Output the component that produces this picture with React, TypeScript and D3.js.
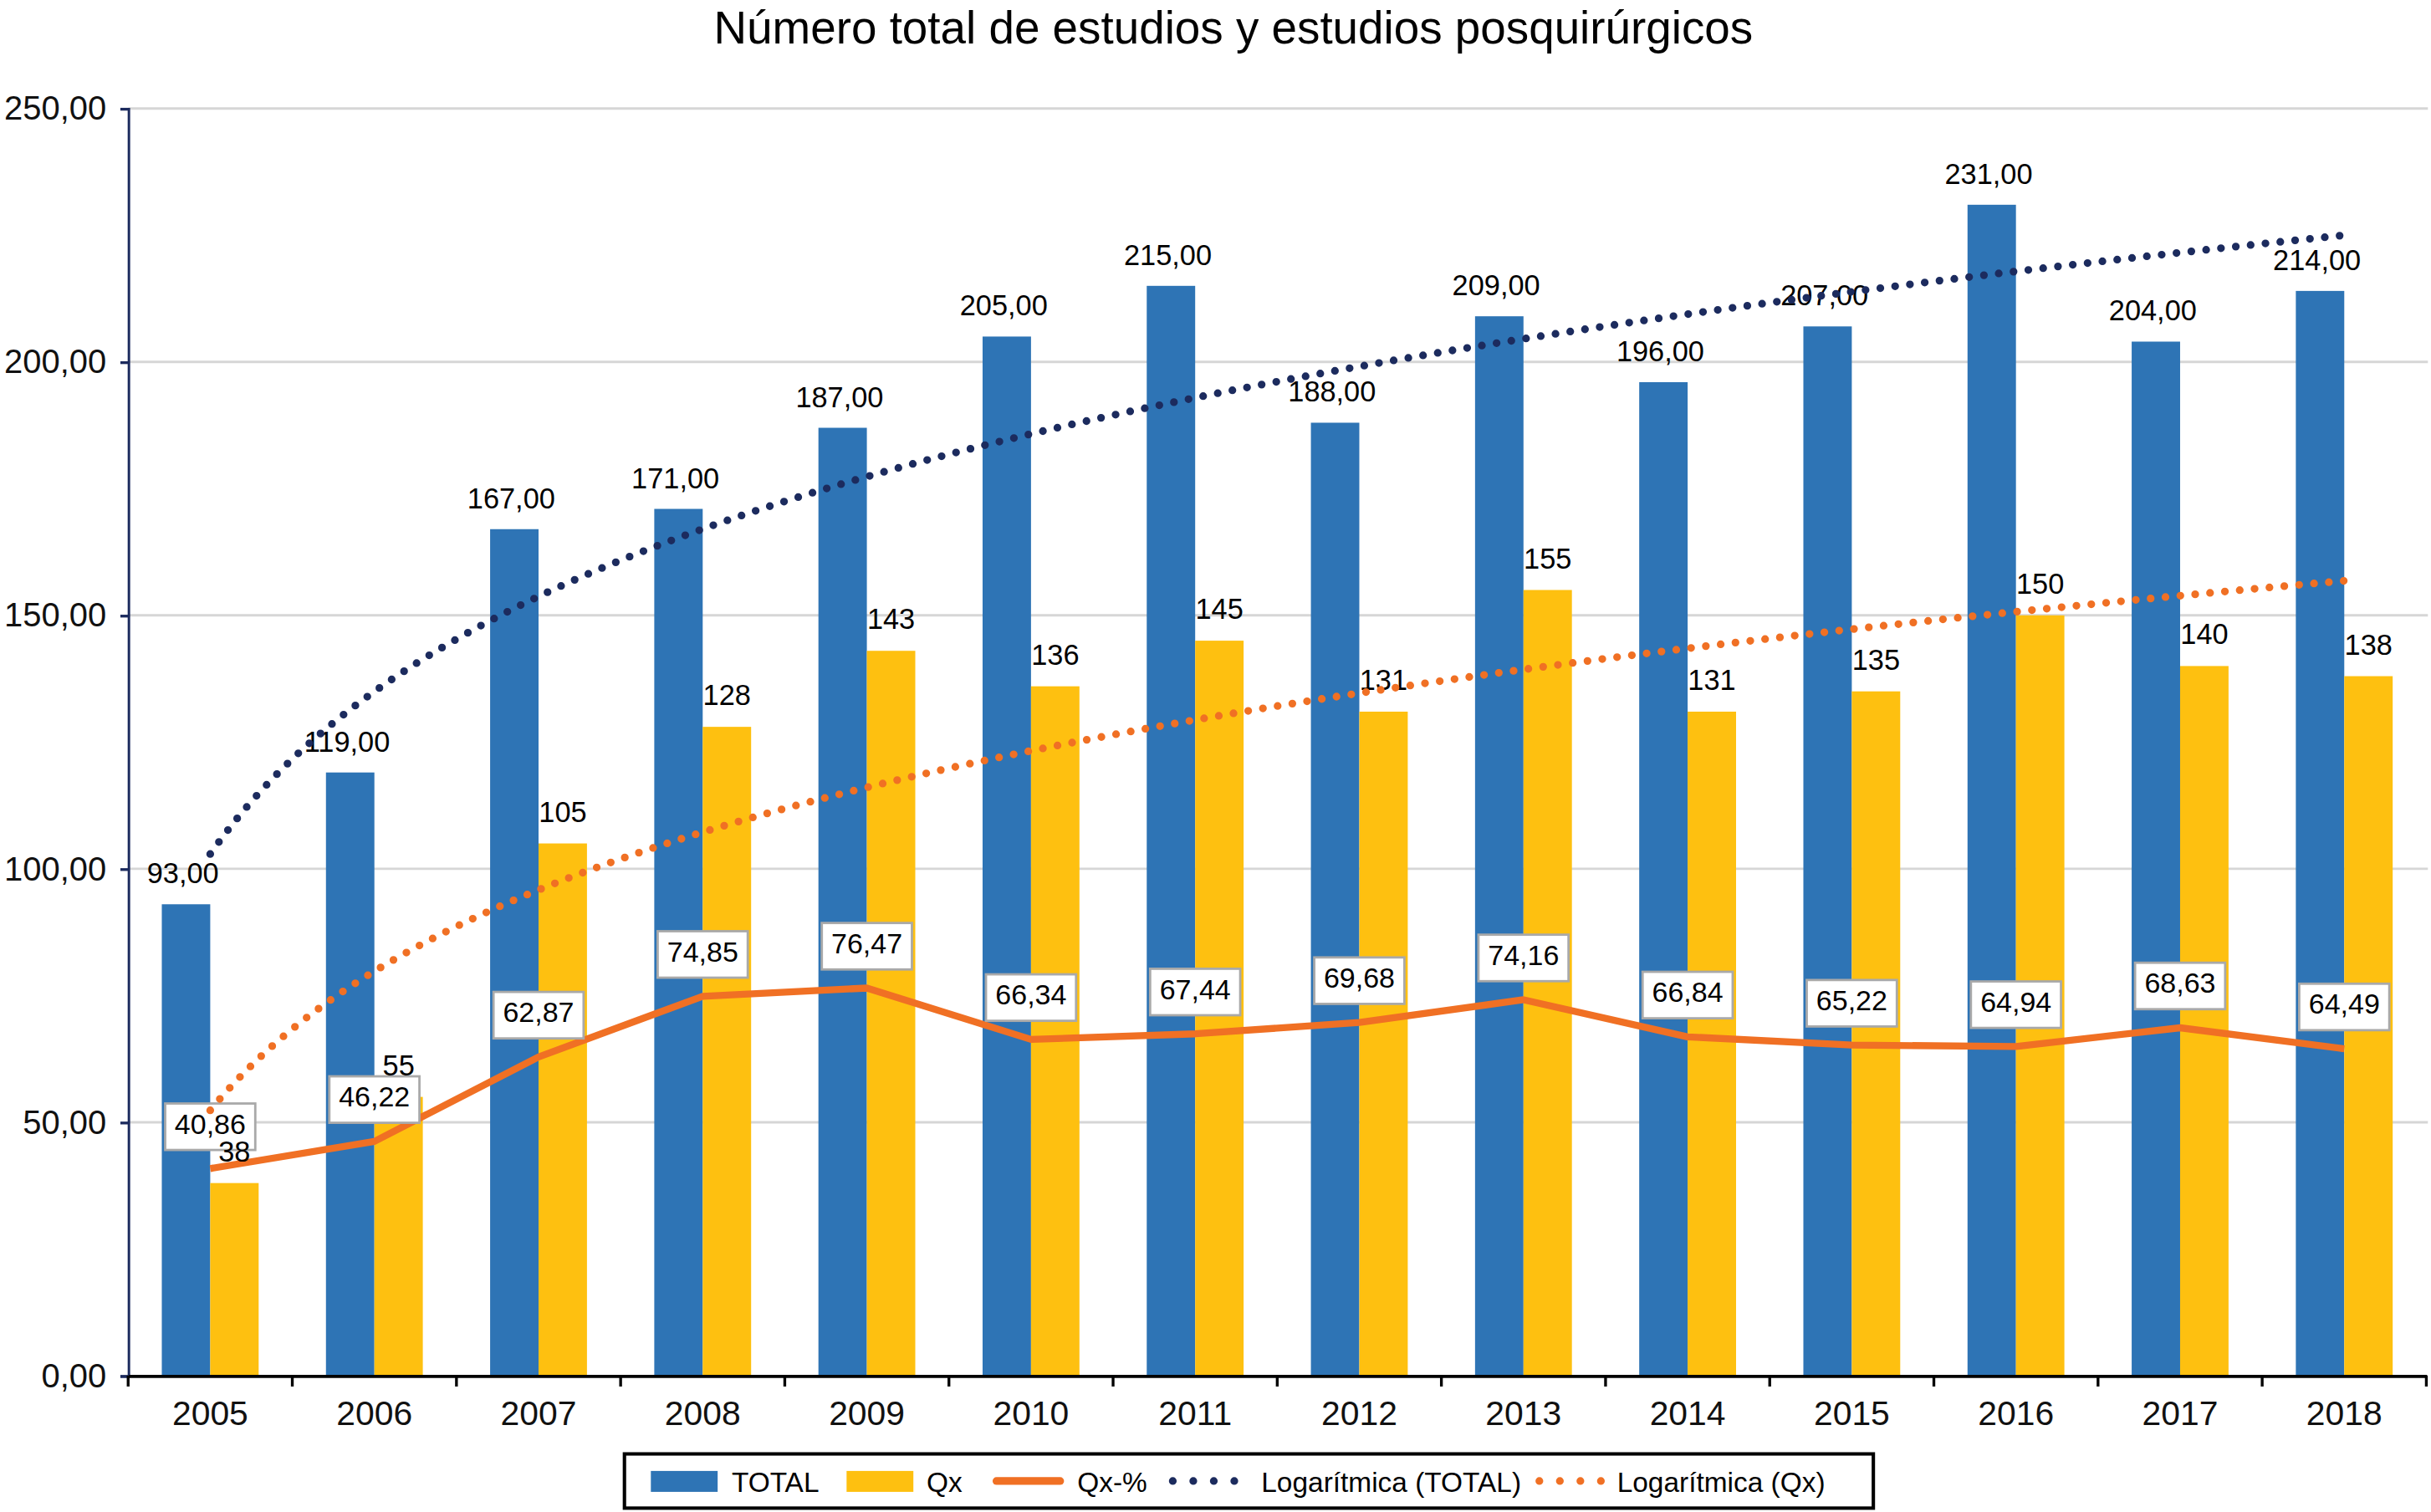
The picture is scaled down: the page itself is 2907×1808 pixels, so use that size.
import * as React from "react"
import { useEffect, useRef } from "react"
import * as d3 from "d3"

const years = ["2005", "2006", "2007", "2008", "2009", "2010", "2011", "2012", "2013", "2014", "2015", "2016", "2017", "2018"]
const totals = [93, 119, 167, 171, 187, 205, 215, 188, 209, 196, 207, 231, 204, 214]
const qx = [38, 55, 105, 128, 143, 136, 145, 131, 155, 131, 135, 150, 140, 138]
const qxPct = [40.86, 46.22, 62.87, 74.85, 76.47, 66.34, 67.44, 69.68, 74.16, 66.84, 65.22, 64.94, 68.63, 64.49]
const yTicks = [0, 50, 100, 150, 200, 250]

const BLUE = "#2e74b5"
const YELLOW = "#fec010"
const ORANGE = "#f07024"
const NAVY = "#1c2b5e"
const FONT = "'Liberation Sans', Arial, sans-serif"

// logarithmic trendline (least squares on ln(x)), like the spreadsheet does
function logFit(values: number[]) {
  const xs = values.map((_, i) => Math.log(i + 1))
  const mx = d3.mean(xs) as number
  const my = d3.mean(values) as number
  const b = d3.sum(xs, (x, i) => (x - mx) * (values[i] - my)) / d3.sum(xs, x => (x - mx) ** 2)
  const a = my - b * mx
  return (i: number) => a + b * Math.log(i + 1)
}

const fmt2 = (v: number) => v.toFixed(2).replace(".", ",")

export default function App() {
  const svgRef = useRef<SVGSVGElement | null>(null)

  useEffect(() => {
    if (!svgRef.current) return
    const svg = d3.select(svgRef.current)
    svg.selectAll("*").remove()

    const W = 1565
    const margin = { top: 70, right: 3, left: 82.5 }
    const plotBottom = 888

    const x = d3.scaleBand<string>().domain(years).range([margin.left, W - margin.right]).padding(0)
    const y = d3.scaleLinear().domain([0, 250]).range([plotBottom, margin.top])
    const bw = x.bandwidth() * 0.295
    const cx = (i: number) => (x(years[i]) as number) + x.bandwidth() / 2
    const xi = d3.scaleLinear().domain([0, years.length - 1]).range([cx(0), cx(years.length - 1)])

    // title
    svg.append("text")
      .attr("x", 794).attr("y", 28)
      .attr("text-anchor", "middle")
      .attr("font-size", 29.5)
      .text("Número total de estudios y estudios posquirúrgicos")

    // grid
    svg.append("g")
      .selectAll("line")
      .data(yTicks.filter(d => d > 0))
      .join("line")
      .attr("x1", margin.left).attr("x2", W - 2)
      .attr("y1", d => y(d)).attr("y2", d => y(d))
      .attr("stroke", "#d6d6d6").attr("stroke-width", 1.6)

    // y axis
    svg.append("g")
      .attr("transform", `translate(${margin.left},0)`)
      .call(d3.axisLeft(y).tickValues(yTicks).tickSize(5).tickPadding(9).tickFormat(d => fmt2(d as number)))
      .call(g => g.select(".domain").attr("stroke", NAVY).attr("stroke-width", 1.6))
      .call(g => g.selectAll(".tick line").attr("stroke", NAVY).attr("stroke-width", 1.8))
      .call(g => g.selectAll(".tick text").attr("font-size", 21.5).attr("font-family", FONT).attr("fill", "#111"))

    // bars
    svg.append("g").selectAll("rect")
      .data(totals)
      .join("rect")
      .attr("x", (_, i) => cx(i) - bw)
      .attr("width", bw)
      .attr("y", d => y(d))
      .attr("height", d => plotBottom - y(d))
      .attr("fill", BLUE)

    svg.append("g").selectAll("rect")
      .data(qx)
      .join("rect")
      .attr("x", (_, i) => cx(i))
      .attr("width", bw)
      .attr("y", d => y(d))
      .attr("height", d => plotBottom - y(d))
      .attr("fill", YELLOW)

    // x axis
    svg.append("g")
      .attr("transform", `translate(0,${plotBottom})`)
      .call(d3.axisBottom(x).tickSize(0).tickPadding(16.5))
      .call(g => g.select(".domain").attr("stroke", "#000").attr("stroke-width", 2))
      .call(g => g.selectAll(".tick text").attr("font-size", 22).attr("font-family", FONT).attr("fill", "#111"))
    svg.append("g").selectAll("line")
      .data(d3.range(years.length + 1))
      .join("line")
      .attr("x1", i => margin.left + i * x.step()).attr("x2", i => margin.left + i * x.step())
      .attr("y1", plotBottom).attr("y2", plotBottom + 7)
      .attr("stroke", "#000").attr("stroke-width", 1.8)

    // Qx-% line
    const line = d3.line<number>().x((_, i) => cx(i)).y(d => y(d))
    svg.append("path")
      .datum(qxPct)
      .attr("fill", "none")
      .attr("stroke", ORANGE)
      .attr("stroke-width", 4.5)
      .attr("stroke-linejoin", "round")
      .attr("d", line)

    // Qx-% label boxes
    const boxes = svg.append("g").selectAll("g")
      .data(qxPct)
      .join("g")
      .attr("transform", (d, i) => `translate(${cx(i)},${y(d) - 27})`)
    boxes.append("rect")
      .attr("x", -29).attr("y", -15).attr("width", 58).attr("height", 30)
      .attr("fill", "#fff").attr("stroke", "#a9a9a9").attr("stroke-width", 1.5)
    boxes.append("text")
      .attr("y", 4.5)
      .attr("text-anchor", "middle")
      .attr("font-size", 18.3)
      .text(d => fmt2(d))

    // bar labels
    svg.append("g").selectAll("text")
      .data(totals)
      .join("text")
      .attr("x", (_, i) => cx(i) - bw / 2 - 2)
      .attr("y", d => y(d) - 13.5)
      .attr("text-anchor", "middle")
      .attr("font-size", 18.5)
      .text(d => fmt2(d))

    svg.append("g").selectAll("text")
      .data(qx)
      .join("text")
      .attr("x", (_, i) => cx(i) + bw / 2)
      .attr("y", d => y(d) - 14)
      .attr("text-anchor", "middle")
      .attr("font-size", 18.5)
      .text(d => String(d))

    // trendlines
    const steps = d3.range(0, years.length - 1 + 0.001, 0.05)
    const trend = (values: number[], color: string) => {
      const f = logFit(values)
      svg.append("path")
        .datum(steps)
        .attr("fill", "none")
        .attr("stroke", color)
        .attr("stroke-width", 5)
        .attr("stroke-linecap", "round")
        .attr("stroke-dasharray", "0 9.6")
        .attr("d", d3.line<number>().x(t => xi(t)).y(t => y(f(t))))
    }
    trend(totals, NAVY)
    trend(qx, ORANGE)

    // legend
    const lg = svg.append("g").attr("transform", "translate(402,938.5)")
    lg.append("rect")
      .attr("width", 804).attr("height", 35)
      .attr("fill", "#fff").attr("stroke", "#000").attr("stroke-width", 2.2)
    const items = [
      { kind: "rect", color: BLUE, label: "TOTAL", sx: 17, tx: 69 },
      { kind: "rect", color: YELLOW, label: "Qx", sx: 143, tx: 194.5 },
      { kind: "line", color: ORANGE, label: "Qx-%", sx: 237.5, tx: 291.5 },
      { kind: "dots", color: NAVY, label: "Logarítmica (TOTAL)", sx: 353, tx: 410 },
      { kind: "dots", color: ORANGE, label: "Logarítmica (Qx)", sx: 589, tx: 639 },
    ]
    items.forEach(it => {
      if (it.kind === "rect") {
        lg.append("rect").attr("x", it.sx).attr("y", 11).attr("width", 43).attr("height", 13.5).attr("fill", it.color)
      } else if (it.kind === "line") {
        lg.append("line").attr("x1", it.sx + 2).attr("x2", it.sx + 43).attr("y1", 17.5).attr("y2", 17.5)
          .attr("stroke", it.color).attr("stroke-width", 5).attr("stroke-linecap", "round")
      } else {
        lg.append("line").attr("x1", it.sx).attr("x2", it.sx + 40).attr("y1", 17.5).attr("y2", 17.5)
          .attr("stroke", it.color).attr("stroke-width", 5).attr("stroke-linecap", "round")
          .attr("stroke-dasharray", "0 13.2")
      }
      lg.append("text").attr("x", it.tx).attr("y", 24.5).attr("font-size", 18).text(it.label)
    })
  }, [])

  return (
    <svg
      ref={svgRef}
      width={2907}
      height={1808}
      viewBox="0 0 1565 976"
      preserveAspectRatio="none"
      fontFamily={FONT}
      style={{ position: "absolute", left: 0, top: 0, display: "block", background: "#fff" }}
    />
  )
}
